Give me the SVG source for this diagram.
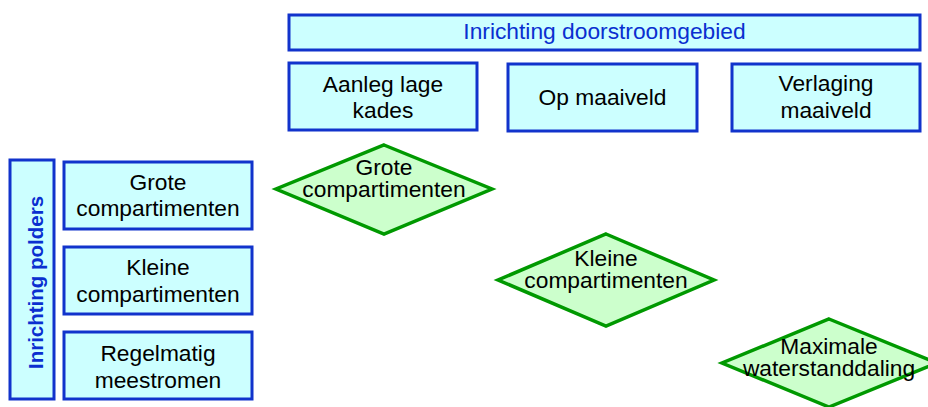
<svg xmlns="http://www.w3.org/2000/svg" width="928" height="407" viewBox="0 0 928 407">
  <style>
    .box { fill: #ccffff; stroke: #1133cc; stroke-width: 3; }
    .dia { fill: #ccffcc; stroke: #009900; stroke-width: 3.5; stroke-linejoin: miter; }
    text { font-family: "Liberation Sans", Arial, sans-serif; font-size: 21.5px; text-anchor: middle; fill: #000; }
    .w { transform-box: fill-box; transform-origin: center; transform: scaleX(1.06); }
    .blue { fill: #0a2fd0; }
    .vert { font-weight: bold; font-size: 20.5px; }
  </style>
  <rect width="928" height="407" fill="#ffffff"/>

  <!-- header row -->
  <g id="doorstroomgebied">
    <rect class="box" x="289" y="15" width="631" height="35"/>
    <text class="w blue" x="604.5" y="39">Inrichting doorstroomgebied</text>
  </g>
  <g id="lage-kades">
    <rect class="box" x="289" y="63" width="188" height="67"/>
    <text class="w" x="383" y="92">Aanleg lage</text>
    <text class="w" x="383" y="118">kades</text>
  </g>
  <g id="op-maaiveld">
    <rect class="box" x="508" y="64" width="189" height="67"/>
    <text class="w" x="602.5" y="105">Op maaiveld</text>
  </g>
  <g id="verlaging-maaiveld">
    <rect class="box" x="732" y="64" width="188" height="67"/>
    <text class="w" x="826" y="91">Verlaging</text>
    <text class="w" x="826" y="118">maaiveld</text>
  </g>

  <!-- polder column -->
  <g id="polders">
    <rect class="box" x="10" y="160" width="44" height="239"/>
    <text class="blue vert" transform="translate(43,282.5) rotate(-90)" x="0" y="0">Inrichting polders</text>
  </g>
  <g id="grote">
    <rect class="box" x="64" y="162" width="188" height="67"/>
    <text class="w" x="158" y="190">Grote</text>
    <text class="w" x="158" y="216">compartimenten</text>
  </g>
  <g id="kleine">
    <rect class="box" x="64" y="247" width="188" height="67"/>
    <text class="w" x="158" y="275">Kleine</text>
    <text class="w" x="158" y="302">compartimenten</text>
  </g>
  <g id="meestromen">
    <rect class="box" x="64" y="332" width="188" height="67"/>
    <text class="w" x="158" y="361">Regelmatig</text>
    <text class="w" x="158" y="388">meestromen</text>
  </g>

  <!-- outcome diamonds -->
  <g id="uitkomst-grote">
    <polygon class="dia" points="384,145 492,189 384,234 276,189"/>
    <text class="w" x="384" y="175">Grote</text>
    <text class="w" x="384" y="197">compartimenten</text>
  </g>
  <g id="uitkomst-kleine">
    <polygon class="dia" points="606,234 714,280 606,326 498,280"/>
    <text class="w" x="606" y="266">Kleine</text>
    <text class="w" x="606" y="288">compartimenten</text>
  </g>
  <g id="uitkomst-maximaal">
    <polygon class="dia" points="829,319 937,363 829,407 722,363"/>
    <text class="w" x="829" y="354">Maximale</text>
    <text class="w" x="829" y="376">waterstanddaling</text>
  </g>

  <g id="connectors"></g>
</svg>
